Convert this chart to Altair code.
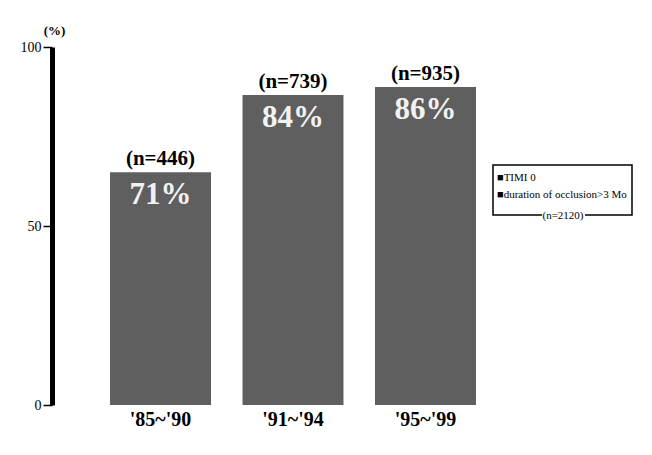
import altair as alt
import pandas as pd

categories = ["'85~'90", "'91~'94", "'95~'99"]
bar_heights = [65, 86.6, 88.8]
pct_labels = ["71%", "84%", "86%"]
n_labels = ["(n=446)", "(n=739)", "(n=935)"]
y_ticks = [0, 50, 100]
legend_items = ["\u25a0TIMI 0", "\u25a0duration of occlusion>3 Mo"]
legend_note = "(n=2120)"

df = pd.DataFrame({"cat": categories, "h": bar_heights, "pct": pct_labels, "n": n_labels})

FONT = "Liberation Serif"

x = alt.X("cat:N", sort=categories,
          scale=alt.Scale(paddingInner=0.238, paddingOuter=0.438),
          axis=alt.Axis(title=None, labelAngle=0, domain=False, ticks=False,
                        labelFont=FONT, labelFontSize=20, labelFontWeight="bold",
                        labelColor="black", labelPadding=4))
y = alt.Y("h:Q", scale=alt.Scale(domain=[0, 100], nice=False, zero=True),
          axis=alt.Axis(values=y_ticks, grid=False, domainWidth=5, domainColor="black",
                        tickColor="black", tickWidth=1.5, tickSize=9,
                        labelFont=FONT, labelFontSize=14, labelColor="black", labelPadding=2,
                        title="(%)", titleAngle=0, titleX=2, titleY=-17,
                        titleAlign="center", titleBaseline="middle",
                        titleFont=FONT, titleFontSize=13, titleFontWeight="bold",
                        titleColor="black"))

base = alt.Chart(df)
bars = base.mark_bar(color="#5f5f5f").encode(x=x, y=y)
pct = base.mark_text(font=FONT, fontSize=31, fontWeight="bold", color="#f2f2f2",
                     baseline="alphabetic", dy=32).encode(x=x, y=y, text="pct:N")
ntext = base.mark_text(font=FONT, fontSize=21, fontWeight="bold", color="black",
                       baseline="alphabetic", dy=-7).encode(x=x, y=y, text="n:N")

leg_box = alt.Chart(pd.DataFrame({"k": [0]})).mark_rect(
    fill="white", stroke="black", strokeWidth=1.5).encode(
    x=alt.value(441), x2=alt.value(580), y=alt.value(118), y2=alt.value(168))

leg_df = pd.DataFrame({"t": legend_items, "yy": [134, 151]})
leg_text = alt.Chart(leg_df).mark_text(font=FONT, fontSize=11, color="black",
                                       align="left", baseline="alphabetic").encode(
    x=alt.value(445), y=alt.Y("yy:Q", scale=None), text="t:N")

note_bg = alt.Chart(pd.DataFrame({"k": [0]})).mark_rect(fill="white").encode(
    x=alt.value(490), x2=alt.value(533), y=alt.value(162), y2=alt.value(175))
note = alt.Chart(pd.DataFrame({"t": [legend_note]})).mark_text(
    font=FONT, fontSize=11, color="black", align="center", baseline="middle").encode(
    x=alt.value(511), y=alt.value(169), text="t:N")

chart = alt.layer(bars, pct, ntext, leg_box, leg_text, note_bg, note).properties(
    width=482, height=358,
    autosize=alt.AutoSizeParams(type="none"),
    padding={"left": 44, "top": 39, "right": 110, "bottom": 40},
    background="white",
).configure_view(stroke=None)

chart.save("out.html", embed_options={"renderer": "svg", "actions": False})
